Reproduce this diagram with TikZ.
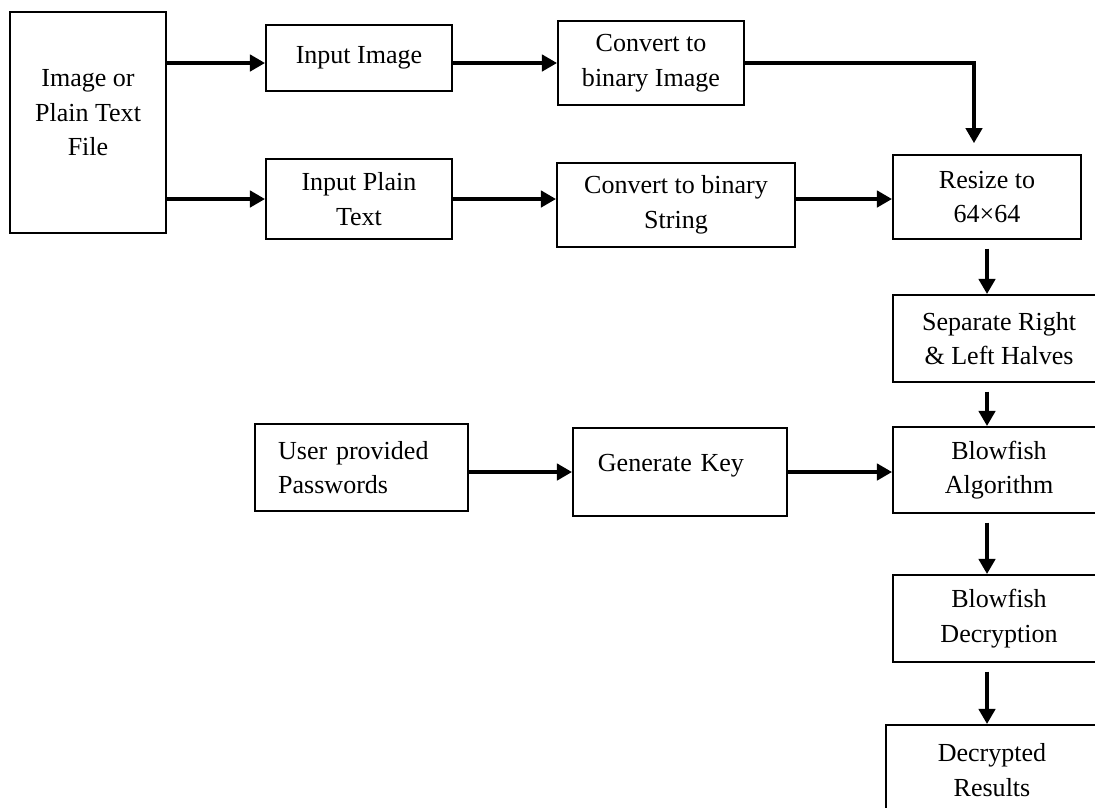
\documentclass[tikz,border=0pt]{standalone}
\usepackage{fontspec}
\setmainfont{Liberation Serif}
\usetikzlibrary{positioning, arrows.meta}
\tikzset{
	stage/.style= {
		rectangle,
		draw,
		line width=0.9pt,
		inner sep=0pt,
		align=center,
		font=\fontsize{12}{16}\selectfont
	},
	flow/.style= {
		line width=1.8pt,
		-{Triangle[length=7pt, width=7.5pt]}
	},
	lowgap/.style={shorten <=4pt},
}

\begin{document}
\begin{tikzpicture}[x=0.0162cm, y=-0.0162cm]
		\useasboundingbox (0,0) rectangle (1095,807);
		\clip (0,0) rectangle (1095,807);

		% input side
		\node (file) [stage, minimum width=2.527cm, minimum height=3.58cm, text depth=9pt] at (88,122.5) {Image or\\Plain Text\\File};
		\node (inimg) [stage, minimum width=3.013cm, minimum height=1.069cm] at (359,58) {Input Image};
		\node (inplain) [stage, minimum width=3.013cm, minimum height=1.296cm] at (359,199) {Input Plain\\Text};
		\node (cvimg) [stage, minimum width=3.013cm, minimum height=1.361cm] at (651,63) {Convert to\\binary Image};
		\node (cvstr) [stage, minimum width=3.856cm, minimum height=1.361cm] at (676,205) {Convert to binary\\String};

		% right column
		\node (resize) [stage, minimum width=3.046cm, minimum height=1.361cm] at (987,197) {Resize to\\64×64};
		\node (separate) [stage, minimum width=3.434cm, minimum height=1.409cm] at (999,338.5) {Separate Right\\\& Left Halves};
		\node (blowalg) [stage, minimum width=3.434cm, minimum height=1.393cm] at (999,470) {Blowfish\\Algorithm};
		\node (blowdec) [stage, minimum width=3.434cm, minimum height=1.409cm] at (999,618.5) {Blowfish\\Decryption};
		\node (result) [stage, minimum width=3.434cm, minimum height=1.458cm] at (992,770) {Decrypted\\Results};

		% key side
		\node (pwd) [stage, minimum width=3.451cm, minimum height=1.409cm, text width=2.7cm, align=left] at (361.5,467.5) {User provided\\Passwords};
		\node (genkey) [stage, minimum width=3.467cm, minimum height=1.426cm, text width=2.66cm, align=left, text depth=8pt] at (680,472) {Generate Key};

		\draw[flow] (file.east |- cvimg.west) to (inimg.west |- cvimg.west);
		\draw[flow] (file.east |- inplain.west) to (inplain.west);
		\draw[flow] (inimg.east |- cvimg.west) to (cvimg.west);
		\draw[flow] (inplain.east) to (inplain.east -| cvstr.west);
		\draw[flow] (cvstr.east |- inplain.east) to (resize.west |- inplain.east);
		\draw[flow, shorten >=5pt] (cvimg.east) -| ([xshift=-6pt]resize.north);
		\draw[flow, lowgap] (resize.south) to (resize.south |- separate.north);
		\draw[flow, lowgap] (separate.south -| resize.south) to (blowalg.north -| resize.south);
		\draw[flow] (pwd.east |- genkey.west) to (genkey.west);
		\draw[flow] (genkey.east) to (genkey.east -| blowalg.west);
		\draw[flow, lowgap] (blowalg.south -| resize.south) to (blowdec.north -| resize.south);
		\draw[flow, lowgap] (blowdec.south -| resize.south) to (result.north -| resize.south);
\end{tikzpicture}
\end{document}
